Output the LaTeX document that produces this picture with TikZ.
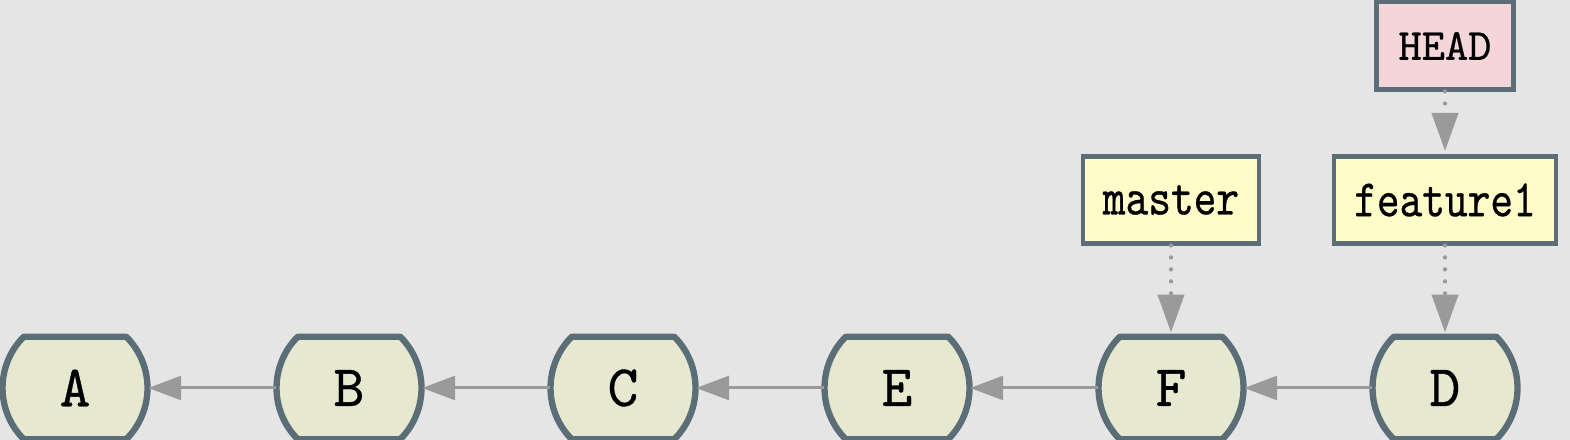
\documentclass[tikz,border=0pt]{standalone}
\usepackage{fontspec}
\usetikzlibrary{arrows.meta}
\newfontfamily\gitfont{lmmono10-regular.otf}[FakeBold=0.6]
\newfontfamily\reffont{lmmono10-regular.otf}[FakeStretch=0.82,FakeBold=0.6]
\definecolor{bggrey}{HTML}{E5E5E5}
\definecolor{edgecol}{HTML}{5B6E77}
\definecolor{commitfill}{HTML}{E6E8CF}
\definecolor{reffill}{HTML}{FFFCC9}
\definecolor{headfill}{HTML}{F4D6D9}
\definecolor{arrowgrey}{HTML}{9A9A9A}
\tikzset{
  commit/.style={minimum width=1.45cm,minimum height=1.025cm,inner sep=0pt,
    font={\fontsize{16.7}{20}\gitfont}},
  commitshape/.style={draw=edgecol,fill=commitfill,line width=1.8pt,line join=round},
  ref/.style={draw=edgecol,fill=reffill,line width=1.15pt,minimum height=0.87cm,
    inner xsep=0.2cm,font={\fontsize{15}{18}\reffont}},
  head/.style={ref,fill=headfill,font={\fontsize{12.6}{15}\gitfont}},
  parent/.style={draw=arrowgrey,line width=0.85pt,-{Triangle[length=3.3mm,width=2.4mm]}},
  pointer/.style={draw=arrowgrey,line width=1.2pt,line cap=round,dash pattern=on 0pt off 3.4pt,
    shorten >=1pt,-{Triangle[length=3.8mm,width=2.6mm]}}
}
\begin{document}
\begin{tikzpicture}
  \useasboundingbox (0,0) rectangle (15.7,4.4);
  \fill[bggrey] (0,0) rectangle (15.7,4.4);
  % commits, oldest on the left
  \foreach \name/\x in {A/0.75, B/3.49, C/6.23, E/8.97, F/11.71, D/14.45} {
    \draw[commitshape] (\x,0.52) ++(45:0.725)
      arc[start angle=45,end angle=-45,radius=0.725] -- ++(-1.025,0)
      arc[start angle=225,end angle=135,radius=0.725] -- cycle;
    \node[commit] (\name) at (\x,0.52) {\name};
  }
  \foreach \a/\b in {B/A, C/B, E/C, F/E, D/F} {
    \draw[parent] (\a) -- (\b);
  }
  % branches and HEAD
  \node[ref] (master) at (11.71,2.40) {master};
  \node[ref] (feature1) at (14.45,2.40) {feature1};
  \node[head,minimum width=1.37cm] (HEAD) at (14.45,3.94) {HEAD};
  \draw[pointer] (master) -- (F);
  \draw[pointer] (feature1) -- (D);
  \draw[pointer] (HEAD) -- (feature1);
\end{tikzpicture}
\end{document}
